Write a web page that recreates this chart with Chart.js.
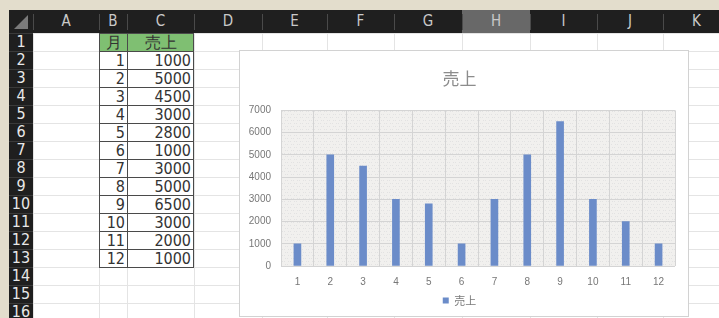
<!DOCTYPE html>
<html>
<head>
<meta charset="utf-8">
<script src="https://cdn.jsdelivr.net/npm/chart.js@4"></script>
<style>
    body { margin: 0; width: 719px; height: 318px; overflow: hidden; background: #fff; position: relative;
           font-family: "Liberation Sans Narrow", "DejaVu Sans Condensed", sans-serif; }
    .abs { position: absolute; box-sizing: border-box; }
    .colhd { color: #c9c9c9; font-size: 15px; text-align: center; line-height: 23px; }
    .rowhd { color: #e8e8e8; font-size: 16px; text-align: center; line-height: 18px; }
    .cell { font-size: 16px; color: #333; line-height: 18px; padding-right: 2px; text-align: right; border: 1px solid #4a4a4a; }
    #chart-box { left: 239px; top: 50px; width: 450px; height: 267px; background: #fff; border: 1px solid #d2d2d2; }
    #chart { position: absolute; left: 240px; top: 51px; }
</style>
</head>
<body>
<div id="sheet"></div>
<div id="chart-box" class="abs"></div>
<canvas id="chart" width="448" height="265"></canvas>
<script>
const MONTHS = ['1', '2', '3', '4', '5', '6', '7', '8', '9', '10', '11', '12'];
const SALES = [1000, 5000, 4500, 3000, 2800, 1000, 3000, 5000, 6500, 3000, 2000, 1000];
const SERIES_NAME = '売上';
const HEADER_MONTH = '月';
const COLUMNS = ['A', 'B', 'C', 'D', 'E', 'F', 'G', 'H', 'I', 'J', 'K'];
const COL_EDGES = [33, 99, 127, 194, 262, 327, 394, 462, 530, 597, 663, 730];
const ROW_COUNT = 16;
const ROW_TOP = 32.7;
const ROW_H = 18;

const sheet = document.getElementById('sheet');

function box(x, y, w, h, css, text, cls) {
    const d = document.createElement('div');
    d.className = 'abs' + (cls ? ' ' + cls : '');
    d.style.left = x + 'px';
    d.style.top = y + 'px';
    d.style.width = w + 'px';
    d.style.height = h + 'px';
    if (css) d.style.cssText += css;
    if (text !== undefined) d.textContent = text;
    sheet.appendChild(d);
    return d;
}

// cell grid
for (let r = 0; r <= ROW_COUNT; r++) {
    box(33, ROW_TOP + r * ROW_H, 719 - 33, 1, 'background:#e4e4e4');
}
COL_EDGES.forEach(x => box(x, 33, 1, 285, 'background:#e4e4e4'));

// beige frame
box(0, 0, 719, 10, 'background:#e3ddcc');
box(0, 0, 9, 318, 'background:#e3ddcc');

// headers
box(9, 10, 710, 23, 'background:#1f1f1f');
box(9, 10, 24, 308, 'background:#1f1f1f');
box(14, 15, 0, 0, 'border-style:solid;border-width:0 0 14px 14px;border-color:transparent transparent #7a7a7a transparent;width:0;height:0');

COLUMNS.forEach((c, i) => {
    const x0 = COL_EDGES[i], x1 = COL_EDGES[i + 1];
    const bg = c === 'H' ? 'background:#686868;' : '';
    box(x0, 10, x1 - x0, 23, bg, c, 'colhd');
    box(x0, 14, 1, 16, 'background:#4a4a4a');
});

for (let r = 0; r < ROW_COUNT; r++) {
    box(9, ROW_TOP + r * ROW_H, 24, ROW_H, '', String(r + 1), 'rowhd');
    box(9, ROW_TOP + r * ROW_H, 24, 1, 'background:#3a3a3a');
}

// data table B1:C13
const bx = COL_EDGES[1], cx = COL_EDGES[2], ex = COL_EDGES[3];
box(bx, ROW_TOP, cx - bx + 1, ROW_H + 1, 'background:#7fbf72;text-align:center;padding:0', HEADER_MONTH, 'cell');
box(cx, ROW_TOP, ex - cx, ROW_H + 1, 'background:#7fbf72;text-align:center;padding:0', SERIES_NAME, 'cell');
MONTHS.forEach((m, i) => {
    const y = ROW_TOP + (i + 1) * ROW_H;
    box(bx, y, cx - bx + 1, ROW_H + 1, 'background:#fff', m, 'cell');
    box(cx, y, ex - cx, ROW_H + 1, 'background:#fff', String(SALES[i]), 'cell');
});

// chart
const plotBg = {
    id: 'plotBg',
    beforeDraw(chart) {
        const { ctx, chartArea: a } = chart;
        const p = document.createElement('canvas');
        p.width = 6; p.height = 6;
        const pc = p.getContext('2d');
        pc.fillStyle = '#f1f0ee';
        pc.fillRect(0, 0, 6, 6);
        pc.fillStyle = '#e2e2e2';
        pc.fillRect(0, 0, 1, 1);
        pc.fillRect(3, 3, 1, 1);
        pc.fillRect(2, 0, 1, 1);
        pc.fillRect(5, 3, 1, 1);
        ctx.save();
        ctx.fillStyle = ctx.createPattern(p, 'repeat');
        ctx.fillRect(a.left, a.top, a.width, a.height);
        ctx.restore();
    }
};

const tickFont = { size: 10, family: '"Liberation Sans", sans-serif' };

new Chart(document.getElementById('chart'), {
    type: 'bar',
    data: {
        labels: MONTHS,
        datasets: [{
            label: SERIES_NAME,
            data: SALES,
            backgroundColor: '#6b8cc9',
            barThickness: 7,
        }],
    },
    options: {
        responsive: false,
        animation: false,
        devicePixelRatio: 1,
        layout: { padding: { left: 4, right: 13, top: 0, bottom: 0 } },
        plugins: {
            title: {
                display: true,
                text: SERIES_NAME,
                color: '#8c8c8c',
                font: { size: 17, family: '"Noto Sans CJK JP", sans-serif', weight: 'normal' },
                padding: { top: 17, bottom: 22 },
            },
            legend: {
                position: 'bottom',
                labels: {
                    boxWidth: 6,
                    boxHeight: 6,
                    color: '#7a7a7a',
                    font: { size: 11, family: '"Noto Sans CJK JP", sans-serif' },
                    padding: 10,
                },
            },
            tooltip: { enabled: false },
        },
        scales: {
            x: {
                grid: { color: '#d4d4d4', drawTicks: false, offset: true },
                border: { display: false },
                ticks: { color: '#777', font: tickFont, padding: 10 },
                afterFit: s => { s.height = 19; },
            },
            y: {
                min: 0,
                max: 7000,
                ticks: { stepSize: 1000, color: '#777', font: tickFont, padding: 10, callback: v => String(v) },
                grid: { color: '#d4d4d4', drawTicks: false },
                border: { display: false },
                afterFit: s => { s.width = 37; },
            },
        },
    },
    plugins: [plotBg],
});
</script>
</body>
</html>
